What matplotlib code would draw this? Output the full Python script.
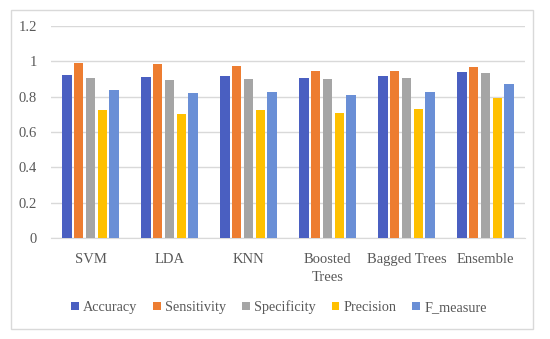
import matplotlib.pyplot as plt
import numpy as np
from matplotlib.patches import FancyBboxPatch

categories = ['SVM', 'LDA', 'KNN', 'Boosted\nTrees', 'Bagged Trees', 'Ensemble']
series = ['Accuracy', 'Sensitivity', 'Specificity', 'Precision', 'F_measure']
accuracy = [0.92, 0.911, 0.915, 0.907, 0.917, 0.939]
sensitivity = [0.99, 0.983, 0.973, 0.945, 0.945, 0.967]
specificity = [0.905, 0.892, 0.902, 0.898, 0.907, 0.932]
precision = [0.727, 0.703, 0.722, 0.708, 0.731, 0.790]
f_measure = [0.837, 0.818, 0.828, 0.807, 0.824, 0.869]

values = [accuracy, sensitivity, specificity, precision, f_measure]
colors = ['#4a5fc1', '#ed7d31', '#a5a5a5', '#ffc000', '#6a8fd6']
TEXT = '#595959'

plt.rcParams['font.family'] = ['Liberation Serif', 'DejaVu Serif']

fig = plt.figure(figsize=(5.5, 3.39), dpi=100)
W, H = 550, 339
ax = fig.add_axes([51 / W, 1 - 238 / H, (525 - 51) / W, (238 - 26) / H])

# outer chart border
fig.patches.append(FancyBboxPatch((11 / W, 1 - 329 / H), (533 - 11) / W, (329 - 10) / H,
                                  boxstyle='square,pad=0', transform=fig.transFigure,
                                  fill=False, edgecolor='#d9d9d9', linewidth=1.0))

x = np.arange(len(categories))
width = 0.118
pitch = 0.148
for i, (name, vals) in enumerate(zip(series, values)):
    ax.bar(x + (i - 2) * pitch, vals, width, color=colors[i], label=name, zorder=3)

ax.set_xlim(-0.5, len(categories) - 0.5)
ax.set_ylim(0, 1.2)
ax.set_yticks([0, 0.2, 0.4, 0.6, 0.8, 1.0, 1.2])
ax.set_yticklabels(['0', '0.2', '0.4', '0.6', '0.8', '1', '1.2'])
ax.set_xticks(x)
ax.set_xticklabels(categories, linespacing=1.45, va='top')
ax.tick_params(axis='both', length=0, labelsize=10.5, colors=TEXT)
ax.tick_params(axis='x', pad=11)
ax.tick_params(axis='y', pad=10)
ax.grid(axis='y', color='#d9d9d9', linewidth=1.0, zorder=0)
for s in ['top', 'right', 'left']:
    ax.spines[s].set_visible(False)
ax.spines['bottom'].set_color('#d9d9d9')

fig.legend(loc='center', bbox_to_anchor=(279 / W, 1 - 307 / H), ncol=5, frameon=False,
           fontsize=10.3, handlelength=0.55, handleheight=0.55, handletextpad=0.3,
           columnspacing=1.1, labelcolor=TEXT)

fig.savefig('out.png', dpi=100, facecolor='white')
